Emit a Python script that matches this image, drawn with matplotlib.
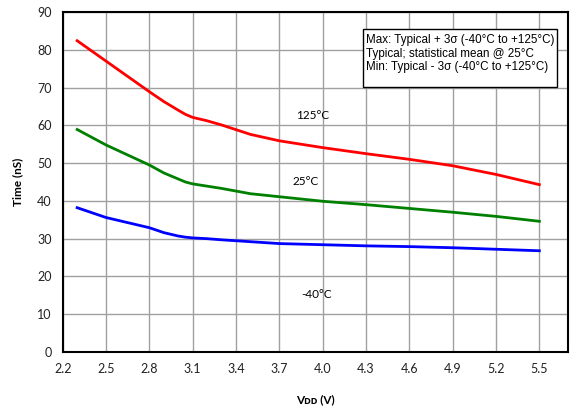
import numpy as np
import matplotlib
matplotlib.use("Agg")
import matplotlib.pyplot as plt
from matplotlib.patches import Rectangle

# Propagation time vs supply voltage
vdd = [2.3, 2.5, 2.8, 2.9, 3.0, 3.05, 3.1, 3.2, 3.3, 3.5, 3.7, 4.0, 4.3, 4.6, 4.9, 5.2, 5.5]
t_125 = [82.4, 77.0, 68.9, 66.3, 64.0, 62.9, 62.1, 61.2, 60.1, 57.6, 55.9, 54.1, 52.5, 51.0, 49.3, 47.0, 44.3]
t_25 = [58.9, 54.8, 49.5, 47.4, 45.8, 45.0, 44.5, 43.9, 43.3, 41.9, 41.1, 39.9, 39.0, 38.0, 37.0, 35.9, 34.6]
t_m40 = [38.2, 35.6, 32.9, 31.6, 30.7, 30.4, 30.2, 30.0, 29.7, 29.2, 28.7, 28.4, 28.1, 27.9, 27.6, 27.2, 26.8]
x_ticks = [2.2, 2.5, 2.8, 3.1, 3.4, 3.7, 4.0, 4.3, 4.6, 4.9, 5.2, 5.5]
note = ["Max: Typical + 3\u03c3 (-40\u00b0C to +125\u00b0C)",
        "Typical; statistical mean @ 25\u00b0C",
        "Min: Typical - 3\u03c3 (-40\u00b0C to +125\u00b0C)"]

plt.rcParams['font.family'] = ['Lato', 'DejaVu Sans']

fig = plt.figure(figsize=(5.72, 4.12), dpi=100)
ax = fig.add_axes([0.1096, 0.1456, 0.8838, 0.8253])

ax.plot(vdd, t_125, color='#ff0000', lw=2)
ax.plot(vdd, t_25, color='#008000', lw=2)
ax.plot(vdd, t_m40, color='#0000ff', lw=2)

ax.set_xlim(2.2, 5.7)
ax.set_ylim(0, 90)
ax.set_xticks(x_ticks)
ax.set_xticklabels(["%.1f" % v for v in x_ticks])
ax.set_yticks(range(0, 91, 10))
ax.grid(True, color='#a0a0a0', lw=1)
ax.set_axisbelow(True)
ax.tick_params(length=0, labelsize=9, pad=8, colors='#222222')
for s in ax.spines.values():
    s.set_linewidth(1.5)
    s.set_color('black')

ax.set_ylabel("Time (nS)", fontsize=8.5, fontweight='bold', labelpad=10)
ax.set_xlabel("V\u1d05\u1d05 (V)", fontsize=8.5, fontweight='bold', labelpad=14)

ax.text(3.93, 62.7, "125\u00b0C", fontsize=8.5, ha='center', va='center')
ax.text(3.88, 45.2, "25\u00b0C", fontsize=8.5, ha='center', va='center')
ax.text(3.96, 15.1, "-40\u00b0C", fontsize=8.5, ha='center', va='center')

ax.add_patch(Rectangle((0.595, 0.78), 0.383, 0.17, transform=ax.transAxes,
                       facecolor='white', edgecolor='black', lw=1, zorder=5))
for i, line in enumerate(note):
    ax.text(0.600, 0.917 - i * 0.04, line, transform=ax.transAxes, fontsize=8.4,
            family=['Liberation Sans', 'DejaVu Sans'], va='center', zorder=6)

fig.savefig("out.png", dpi=100)
